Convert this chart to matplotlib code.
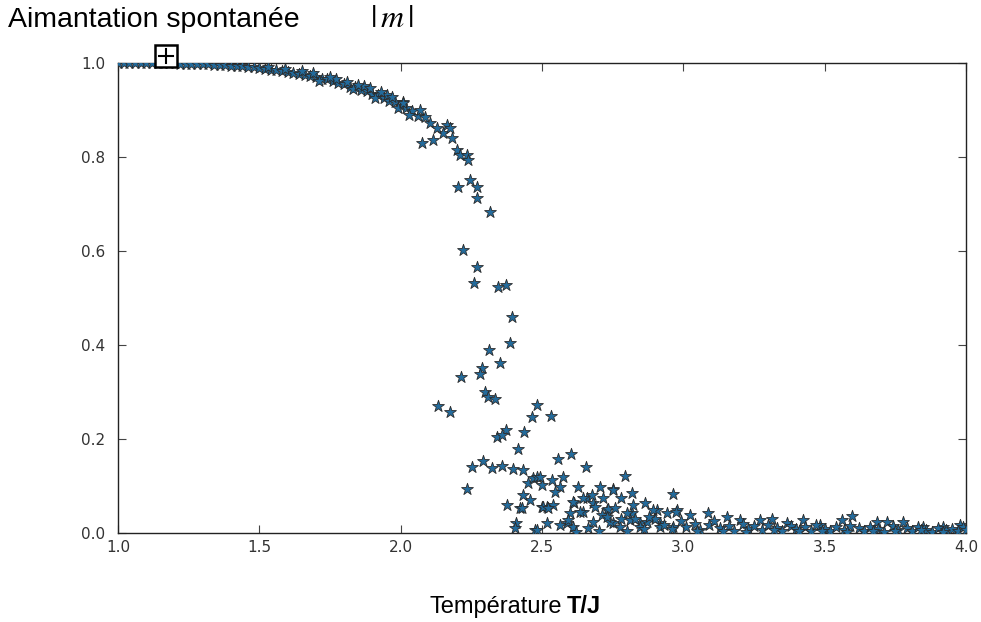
import numpy as np
import matplotlib
matplotlib.use('Agg')
import matplotlib.pyplot as plt
from matplotlib.patches import Rectangle
from matplotlib.lines import Line2D

#%% data
# ordered band, low temperature
T_low = [1.00, 1.02, 1.04, 1.06, 1.08, 1.10, 1.12, 1.14, 1.16, 1.18, 1.20, 1.22,
         1.24, 1.26, 1.28, 1.30, 1.32, 1.34, 1.36, 1.38, 1.40, 1.42, 1.44, 1.46,
         1.48, 1.50, 1.52, 1.54, 1.56, 1.58, 1.60, 1.62, 1.64, 1.66, 1.68, 1.70,
         1.72, 1.74, 1.76, 1.78, 1.80, 1.82, 1.84, 1.86, 1.88, 1.90, 1.92, 1.94,
         1.96, 1.98, 2.00, 2.02, 2.04, 2.06,
         1.65, 1.71, 1.77, 1.83, 1.87, 1.91, 1.95, 1.99, 2.01, 2.03,
         1.53, 1.59, 1.69, 1.75, 1.81, 1.85, 1.89, 1.93, 1.97]
m_low = [1.000, 1.000, 1.000, 1.000, 1.000, 1.000, 0.999, 0.999, 0.999, 0.999, 0.999, 0.998,
         0.998, 0.998, 0.997, 0.997, 0.997, 0.996, 0.995, 0.995, 0.994, 0.993, 0.993, 0.991,
         0.991, 0.989, 0.988, 0.986, 0.985, 0.983, 0.981, 0.979, 0.977, 0.975, 0.972, 0.970,
         0.967, 0.965, 0.961, 0.958, 0.955, 0.950, 0.948, 0.943, 0.940, 0.934, 0.931, 0.925,
         0.920, 0.917, 0.909, 0.905, 0.898, 0.888,
         0.982, 0.962, 0.966, 0.944, 0.952, 0.925, 0.932, 0.905, 0.918, 0.890,
         0.992, 0.987, 0.978, 0.970, 0.960, 0.953, 0.947, 0.938, 0.928]

# critical region
T_mid = [2.008, 2.068, 2.104, 2.164, 2.150, 2.114, 2.075, 2.181, 2.199, 2.210, 2.235,
         2.238, 2.245, 2.203, 2.270, 2.270, 2.316, 2.086, 2.128, 2.174,
         2.220, 2.270, 2.259, 2.344, 2.372, 2.394, 2.387, 2.312, 2.351, 2.288, 2.280,
         2.213, 2.298, 2.309, 2.334, 2.132, 2.174, 2.482, 2.464, 2.532, 2.372, 2.341,
         2.358, 2.436, 2.415, 2.252, 2.291, 2.323, 2.358, 2.397, 2.433, 2.234, 2.376,
         2.422, 2.457, 2.433, 2.450, 2.468, 2.408, 2.404, 2.556, 2.602, 2.655, 2.793,
         2.963, 2.482, 2.500, 2.535, 2.574, 2.563, 2.546, 2.627, 2.705, 2.751, 2.818,
         2.659, 2.613, 2.680, 2.716, 2.864, 2.500, 2.518, 2.539, 2.430, 2.600, 2.645,
         2.730, 2.820, 2.588, 2.563, 2.680, 2.751, 2.847, 2.917, 2.475, 2.518,
         2.493, 2.645, 2.677, 2.779, 2.610, 2.687, 2.733, 2.758, 2.822, 2.503, 2.521,
         2.634, 2.712, 2.800, 2.907, 2.942, 2.977, 2.592, 2.740, 2.811, 2.871, 2.610,
         2.663, 2.776, 2.847, 2.917, 2.963, 2.482, 2.751, 2.892]
m_mid = [0.915, 0.900, 0.872, 0.868, 0.851, 0.836, 0.830, 0.840, 0.815, 0.804, 0.804,
         0.794, 0.751, 0.736, 0.736, 0.713, 0.683, 0.885, 0.862, 0.862,
         0.602, 0.566, 0.532, 0.523, 0.528, 0.460, 0.404, 0.389, 0.362, 0.351, 0.338,
         0.332, 0.300, 0.289, 0.285, 0.270, 0.257, 0.272, 0.247, 0.250, 0.219, 0.204,
         0.209, 0.215, 0.179, 0.140, 0.153, 0.138, 0.143, 0.136, 0.134, 0.094, 0.060,
         0.053, 0.070, 0.081, 0.106, 0.117, 0.021, 0.010, 0.157, 0.168, 0.140, 0.121,
         0.083, 0.119, 0.102, 0.113, 0.119, 0.098, 0.087, 0.098, 0.098, 0.094, 0.085,
         0.074, 0.064, 0.064, 0.074, 0.064, 0.055, 0.055, 0.060, 0.053, 0.043, 0.045,
         0.049, 0.043, 0.021, 0.017, 0.023, 0.021, 0.021, 0.021, 0.006, 0.021,
         0.119, 0.074, 0.081, 0.074, 0.066, 0.055, 0.051, 0.053, 0.060, 0.055, 0.053,
         0.045, 0.038, 0.043, 0.049, 0.043, 0.049, 0.028, 0.023, 0.028, 0.023, 0.013,
         0.011, 0.013, 0.013, 0.013, 0.013, 0.006, 0.091, 0.049]

# high temperature tail
T_high = [2.974, 3.023, 3.087, 3.154, 3.200, 3.270, 3.313, 3.366, 3.423, 3.483, 3.561,
          3.596, 3.685, 3.720, 3.777, 3.848, 3.918, 3.978,
          2.90, 2.93, 2.96, 2.99, 3.01, 3.04, 3.06, 3.09, 3.11, 3.13, 3.16, 3.18, 3.21,
          3.23, 3.25, 3.28, 3.30, 3.33, 3.35, 3.38, 3.40, 3.43, 3.45, 3.47, 3.50, 3.52,
          3.54, 3.57, 3.59, 3.62, 3.64, 3.66, 3.69, 3.71, 3.74, 3.76, 3.79, 3.81, 3.83,
          3.86, 3.88, 3.90, 3.93, 3.95, 3.97, 3.99, 4.00,
          2.80, 2.83, 2.86, 2.88, 2.70, 2.62, 2.73, 2.78,
          3.05, 3.14, 3.22, 3.32, 3.41, 3.49, 3.58, 3.67, 3.75, 3.84, 3.92]
m_high = [0.045, 0.038, 0.043, 0.034, 0.028, 0.028, 0.030, 0.021, 0.028, 0.017, 0.028,
          0.036, 0.023, 0.023, 0.023, 0.013, 0.013, 0.017,
          0.030, 0.018, 0.008, 0.025, 0.012, 0.020, 0.006, 0.018, 0.026, 0.010, 0.015,
          0.004, 0.019, 0.009, 0.014, 0.006, 0.017, 0.010, 0.004, 0.015, 0.008, 0.012,
          0.005, 0.016, 0.009, 0.004, 0.013, 0.007, 0.015, 0.010, 0.004, 0.012, 0.008,
          0.003, 0.014, 0.006, 0.010, 0.004, 0.012, 0.007, 0.003, 0.011, 0.006, 0.009,
          0.004, 0.012, 0.006,
          0.005, 0.030, 0.008, 0.035, 0.005, 0.003, 0.035, 0.030,
          0.004, 0.005, 0.003, 0.006, 0.004, 0.005, 0.003, 0.005, 0.004, 0.006, 0.003]

T = np.array(T_low + T_mid + T_high)
m = np.array(m_low + m_mid + m_high)

#%% figure
W, H = 981, 622
fig = plt.figure(figsize=(W / 100., H / 100.), dpi=100)
ax = fig.add_axes([118. / W, 1 - 533. / H, (966. - 118.) / W, (533. - 63.) / H])

ax.scatter(T, m, marker='*', s=80, facecolor='#236b9c', edgecolor='#2b2b2b',
           linewidth=0.6, zorder=3)

ax.set_xlim(1.0, 4.0)
ax.set_ylim(0.0, 1.0)
ax.set_xticks([1.0, 1.5, 2.0, 2.5, 3.0, 3.5, 4.0])
ax.set_yticks([0.0, 0.2, 0.4, 0.6, 0.8, 1.0])
ax.xaxis.set_major_formatter(matplotlib.ticker.FormatStrFormatter('%.1f'))
ax.yaxis.set_major_formatter(matplotlib.ticker.FormatStrFormatter('%.1f'))
ax.tick_params(direction='in', top=True, right=True, length=6, width=0.8,
               labelsize=11, labelcolor='#333333', color='#444444')
ax.tick_params(axis='y', pad=9)
ax.tick_params(axis='x', pad=5)
for sp in ax.spines.values():
    sp.set_linewidth(1.0)
    sp.set_color('#222222')

# titles
fig.text(8. / W, 1 - 27. / H, 'Aimantation spontanée', fontsize=20.5,
         family='Liberation Sans', ha='left', va='baseline')
plt.rcParams['mathtext.fontset'] = 'stix'
fig.text(370. / W, 1 - 27. / H, r'$|\,m\,|$', fontsize=23, ha='left', va='baseline')

fig.text(430. / W, 1 - 613. / H, 'Température', fontsize=17,
         family='Liberation Sans', ha='left', va='baseline')
fig.text(567. / W, 1 - 613. / H, 'T/J', fontsize=17, fontweight='bold',
         family='Liberation Sans', ha='left', va='baseline')

# little boxed plus over the frame
fig.patches.append(Rectangle((155. / W, 1 - 67. / H), 22. / W, 22. / H,
                             transform=fig.transFigure, facecolor='white',
                             edgecolor='black', linewidth=1.8, zorder=10))
fig.lines.append(Line2D([159. / W, 173. / W], [1 - 56. / H, 1 - 56. / H],
                        transform=fig.transFigure, color='black', lw=1.5, zorder=11))
fig.lines.append(Line2D([166. / W, 166. / W], [1 - 49. / H, 1 - 63. / H],
                        transform=fig.transFigure, color='black', lw=1.5, zorder=11))

fig.savefig('out.png', dpi=100)
